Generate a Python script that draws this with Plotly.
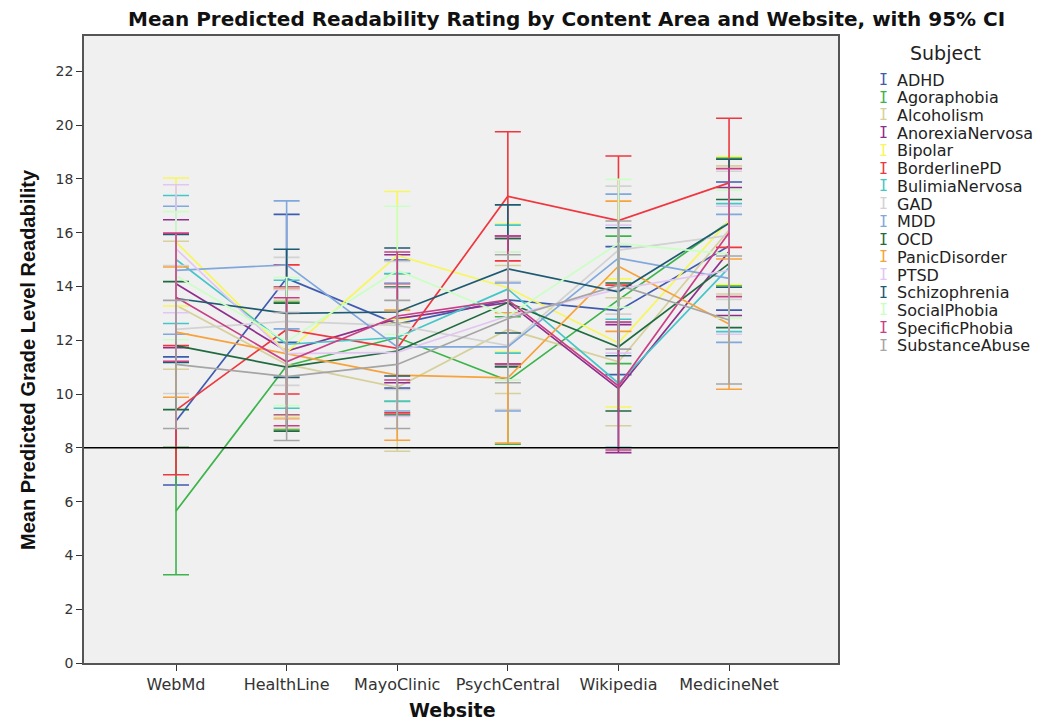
import plotly.graph_objects as go

websites = ["WebMd", "HealthLine", "MayoClinic", "PsychCentral", "Wikipedia", "MedicineNet"]
subjects = ["ADHD", "Agoraphobia", "Alcoholism", "AnorexiaNervosa", "Bipolar", "BorderlinePD",
            "BulimiaNervosa", "GAD", "MDD", "OCD", "PanicDisorder", "PTSD", "Schizophrenia",
            "SocialPhobia", "SpecificPhobia", "SubstanceAbuse"]

ADHD = [9.0, 14.3, 12.6, 13.5, 13.1, 15.5]
Agoraphobia = [5.65, 11.05, 12.1, 10.5, 13.5, 16.4]
Alcoholism = [13.3, 11.1, 10.25, 12.4, 11.2, 16.1]
AnorexiaNervosa = [14.1, 11.6, 12.8, 13.4, 10.2, 15.3]
Bipolar = [15.65, 11.55, 15.15, 13.95, 11.9, 16.45]
BorderlinePD = [9.4, 12.4, 11.7, 17.35, 16.45, 17.85]
BulimiaNervosa = [15.0, 11.85, 12.1, 13.9, 10.4, 14.7]
GAD = [12.4, 12.7, 12.55, 11.8, 15.35, 15.9]
MDD = [14.6, 14.8, 11.75, 11.75, 15.05, 14.3]
OCD = [11.8, 11.0, 11.6, 13.4, 11.75, 14.85]
PanicDisorder = [12.3, 11.5, 10.7, 10.6, 14.75, 12.6]
PTSD = [15.4, 11.5, 11.55, 12.9, 13.9, 14.6]
Schizophrenia = [13.55, 13.0, 13.05, 14.65, 13.8, 16.35]
SocialPhobia = [14.4, 11.95, 14.6, 12.9, 15.6, 15.2]
SpecificPhobia = [13.6, 11.2, 12.9, 13.5, 10.3, 16.0]
SubstanceAbuse = [11.1, 10.65, 11.1, 12.8, 14.05, 12.75]

means = [ADHD, Agoraphobia, Alcoholism, AnorexiaNervosa, Bipolar, BorderlinePD, BulimiaNervosa,
         GAD, MDD, OCD, PanicDisorder, PTSD, Schizophrenia, SocialPhobia, SpecificPhobia, SubstanceAbuse]

# 95% CI half widths per subject
ci_half = [2.38, 2.37, 2.38, 2.38, 2.38, 2.4, 2.38, 2.38, 2.38, 2.38, 2.42, 2.38, 2.38, 2.38, 2.38, 2.38]

colors = ["#3f5bb0", "#3cb44b", "#d6d09a", "#8e2f8c", "#f7f65c", "#f0363e", "#45c6c8", "#d2d2d2",
          "#80a8dc", "#1f6a3e", "#f7a23a", "#e2c6f2", "#1f5b70", "#caffc4", "#c93f86", "#a5a5a5"]

fig = go.Figure()
for name, m, c, ci in zip(subjects, means, colors, ci_half):
    fig.add_trace(go.Scatter(
        x=websites, y=m, mode="lines", name=name,
        line=dict(color=c, width=1.7),
        error_y=dict(type="data", array=[ci] * len(m), color=c, thickness=1.6, width=13),
        showlegend=False,
    ))

fig.add_shape(type="line", xref="paper", yref="y", x0=0, x1=1, y0=8, y1=8,
              line=dict(color="black", width=1.5))

# page offsets (body margin) are 8px; plot area spans x 84..838, y 36..663 on the page
PX0, PW, PY1, PH = 84, 754, 663, 627

def px(x):
    return (x - PX0) / PW

def py(y):
    return (PY1 - y) / PH

row0 = 80
step = 17.73
for i, (name, c) in enumerate(zip(subjects, colors)):
    yy = py(row0 + step * i)
    fig.add_annotation(xref="paper", yref="paper", x=px(883), y=yy, text="I",
                       showarrow=False, xanchor="center", yanchor="middle",
                       font=dict(family="DejaVu Sans Mono", size=15, color=c))
    fig.add_annotation(xref="paper", yref="paper", x=px(895), y=yy, text=name,
                       showarrow=False, xanchor="left", yanchor="middle",
                       font=dict(family="DejaVu Sans", size=16, color="#222"))
fig.add_annotation(xref="paper", yref="paper", x=px(945), y=py(53), text="Subject",
                   showarrow=False, xanchor="center", yanchor="middle",
                   font=dict(family="DejaVu Sans", size=19, color="#222"))

fig.add_annotation(xref="paper", yref="paper", x=px(28), y=py(360),
                   text="<b>Mean Predicted Grade Level Readability</b>", textangle=-90,
                   showarrow=False, xanchor="center", yanchor="middle",
                   font=dict(family="Liberation Sans Narrow, Liberation Sans", size=20, color="#111"))

fig.add_annotation(xref="paper", yref="paper", x=px(566), y=py(19),
                   text="<b>Mean Predicted Readability Rating by Content Area and Website, with 95% CI</b>",
                   showarrow=False, xanchor="center", yanchor="middle",
                   font=dict(family="DejaVu Sans", size=20, color="#111"))

fig.add_annotation(xref="paper", yref="paper", x=px(452), y=py(710),
                   text="<b>Website</b>",
                   showarrow=False, xanchor="center", yanchor="middle",
                   font=dict(family="DejaVu Sans", size=19, color="#111"))

fig.update_layout(
    width=1036, height=715,
    margin=dict(l=76, r=206, t=28, b=60, autoexpand=False),
    paper_bgcolor="white", plot_bgcolor="#f0f0f0",
    xaxis=dict(automargin=False,
               type="category", range=[-0.832, 5.985], showgrid=False, zeroline=False,
               showline=True, mirror=True, linecolor="#555", linewidth=1.5,
               ticks="outside", ticklen=6, tickcolor="#333",
               tickfont=dict(family="DejaVu Sans", size=16, color="#333")),
    yaxis=dict(automargin=False,
               range=[0, 23.31], tickvals=list(range(0, 23, 2)), showgrid=False, zeroline=False,
               showline=True, mirror=True, linecolor="#555", linewidth=1.5,
               ticks="outside", ticklen=6, tickcolor="#333",
               tickfont=dict(family="DejaVu Sans", size=14, color="#333")),
)

fig.write_html("out.html")
